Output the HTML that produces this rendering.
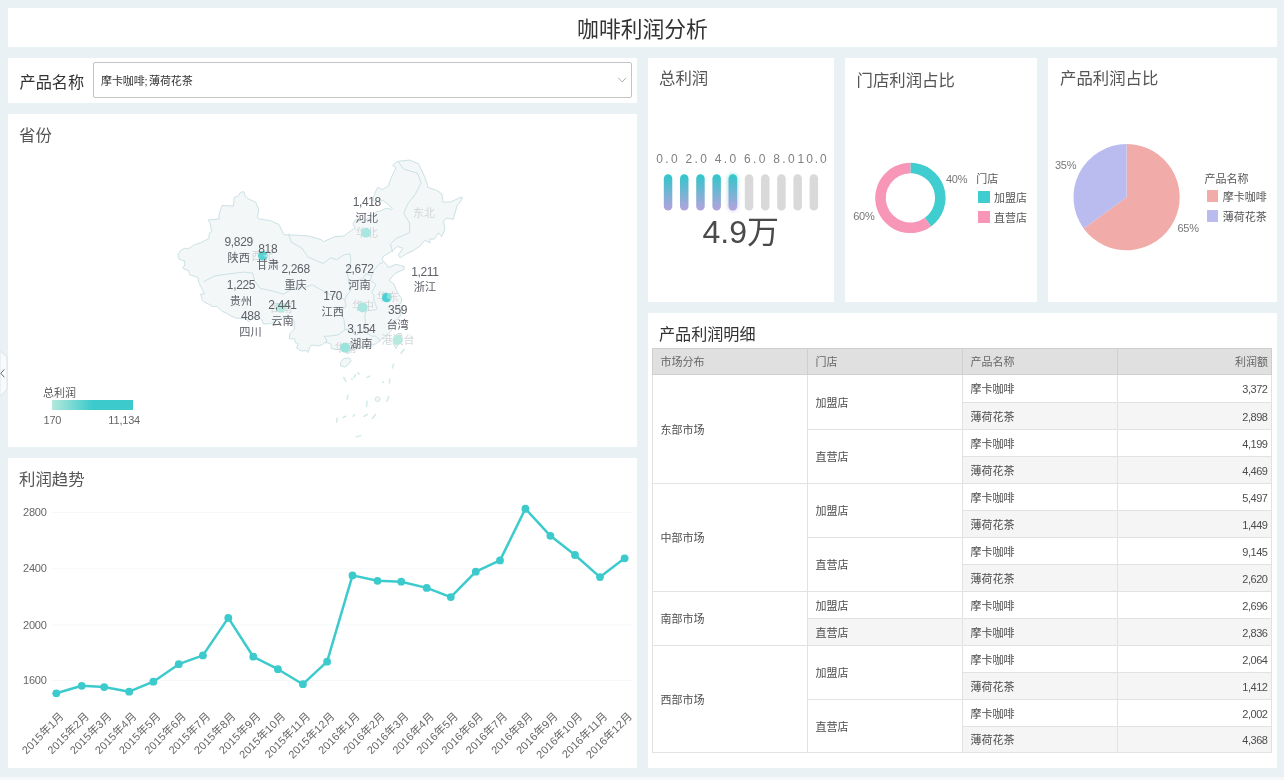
<!DOCTYPE html><html lang="zh-CN"><head><meta charset="utf-8"><title>咖啡利润分析</title><style>
html,body{margin:0;padding:0}
body{width:1284px;height:780px;overflow:hidden;background:#e9f1f5;font-family:"Liberation Sans","Noto Sans CJK SC",sans-serif;color:#555;position:relative}
.p{position:absolute;background:#fff}
.t{position:absolute;white-space:nowrap;line-height:1}
.h{font-size:16.4px;color:#555}
svg{position:absolute;left:0;top:0}
svg text{font-family:"Liberation Sans","Noto Sans CJK SC",sans-serif}
#tb{position:absolute;left:652px;top:348px;width:619px;border-collapse:collapse;table-layout:fixed;font-size:11px;color:#4d4d4d}
#tb td,#tb th{border:1px solid #e2e2e2;height:27px;padding:2px 0 0 7.5px;text-align:left;font-weight:normal;vertical-align:middle;background:#fff;line-height:1;box-sizing:border-box}
#tb th{background:#e0e0e0;color:#666;border-color:#cfcfcf;height:26px}
#tb tr.first td{height:28px}
#tb tr.last td{height:26px}
#tb .n{text-align:right;padding:2px 3.5px 0 0;letter-spacing:-0.45px}
#tb th.n{padding-right:3px;letter-spacing:0}
#tb tr.g td.z{background:#f5f5f5}

</style></head><body>
<div class="p" style="left:8px;top:8px;width:1269px;height:39px"></div>
<div class="p" style="left:8px;top:58px;width:629px;height:45px"></div>
<div class="p" style="left:8px;top:114px;width:629px;height:333px"></div>
<div class="p" style="left:8px;top:458px;width:629px;height:310px"></div>
<div class="p" style="left:648px;top:58px;width:186px;height:244px"></div>
<div class="p" style="left:845px;top:58px;width:192px;height:244px"></div>
<div class="p" style="left:1048px;top:58px;width:229px;height:244px"></div>
<div class="p" style="left:648px;top:313px;width:629px;height:455px"></div>
<div class="p" style="left:0;top:777px;width:1284px;height:3px;background:#f4f8fa"></div>
<div class="t " style="left:0.5px;top:18.5px;width:1284px;text-align:center;font-size:21.8px;color:#333">咖啡利润分析</div>
<div class="t " style="left:19.5px;top:73.5px;font-size:16.2px;color:#333">产品名称</div>
<div style="position:absolute;left:93px;top:62px;width:537px;height:34px;border:1px solid #c4c4c4;border-radius:2px;background:#fff"></div>
<div class="t " style="left:101px;top:75.5px;font-size:11px;color:#333;letter-spacing:-0.1px">摩卡咖啡;<span style="margin-left:-1.5px"> </span>薄荷花茶</div>
<div class="t h" style="left:19px;top:127px;">省份</div>
<div class="t h" style="left:19px;top:471.2px;">利润趋势</div>
<div class="t h" style="left:659px;top:70.4px;">总利润</div>
<div class="t h" style="left:856.5px;top:71.5px;">门店利润占比</div>
<div class="t h" style="left:1060px;top:70.3px;">产品利润占比</div>
<div class="t " style="left:659px;top:326px;font-size:16.1px;color:#333">产品利润明细</div><table id="tb"><colgroup><col style="width:155px"><col style="width:155px"><col style="width:155px"><col style="width:154px"></colgroup>
<tr><th>市场分布</th><th>门店</th><th>产品名称</th><th class="n">利润额</th></tr>
<tr class="first"><td rowspan="4">东部市场</td><td rowspan="2">加盟店</td><td class="z">摩卡咖啡</td><td class="n z">3,372</td></tr>
<tr class="g"><td class="z">薄荷花茶</td><td class="n z">2,898</td></tr>
<tr><td rowspan="2">直营店</td><td class="z">摩卡咖啡</td><td class="n z">4,199</td></tr>
<tr class="g"><td class="z">薄荷花茶</td><td class="n z">4,469</td></tr>
<tr><td rowspan="4">中部市场</td><td rowspan="2">加盟店</td><td class="z">摩卡咖啡</td><td class="n z">5,497</td></tr>
<tr class="g"><td class="z">薄荷花茶</td><td class="n z">1,449</td></tr>
<tr><td rowspan="2">直营店</td><td class="z">摩卡咖啡</td><td class="n z">9,145</td></tr>
<tr class="g"><td class="z">薄荷花茶</td><td class="n z">2,620</td></tr>
<tr><td rowspan="2">南部市场</td><td rowspan="1" class="z">加盟店</td><td class="z">摩卡咖啡</td><td class="n z">2,696</td></tr>
<tr class="g"><td rowspan="1" class="z">直营店</td><td class="z">摩卡咖啡</td><td class="n z">2,836</td></tr>
<tr><td rowspan="4">西部市场</td><td rowspan="2">加盟店</td><td class="z">摩卡咖啡</td><td class="n z">2,064</td></tr>
<tr class="g"><td class="z">薄荷花茶</td><td class="n z">1,412</td></tr>
<tr><td rowspan="2">直营店</td><td class="z">摩卡咖啡</td><td class="n z">2,002</td></tr>
<tr class="g last"><td class="z">薄荷花茶</td><td class="n z">4,368</td></tr>
</table><svg width="1284" height="780" viewBox="0 0 1284 780">
<defs><linearGradient id="gb" x1="0" y1="0" x2="0" y2="1"><stop offset="0" stop-color="#2ec7c9"/><stop offset="1" stop-color="#b6a2de"/></linearGradient><linearGradient id="lg" x1="0" y1="0" x2="1" y2="0"><stop offset="0" stop-color="#b4e8dc"/><stop offset="0.5" stop-color="#3ccacc"/><stop offset="1" stop-color="#3ccacc"/></linearGradient><filter id="glow" x="-100%" y="-30%" width="300%" height="160%"><feGaussianBlur stdDeviation="2"/></filter></defs>
<path d="M0 351 L7 357 L7 389 L0 396.5Z" fill="#f8fafc" stroke="#dde5ea" stroke-width="1"/>
<path d="M4.3 369.4 L0.8 373.3 L4.3 377.2" fill="none" stroke="#666" stroke-width="1"/>
<g fill="#f4f7f7" stroke="#cbe1e5" stroke-width="1" stroke-linejoin="round">
<path d="M178.0 254.9 L180.3 250.7 L184.5 248.3 L188.2 248.9 L193.7 245.2 L200.6 242.8 L208.9 238.5 L209.4 232.9 L211.7 231.6 L209.9 222.7 L208.0 220.1 L219.6 218.8 L218.6 216.1 L221.9 205.5 L233.4 206.2 L234.3 197.3 L238.5 195.9 L240.3 192.4 L244.0 191.7 L245.0 195.9 L249.1 199.3 L255.6 202.1 L258.8 209.5 L257.4 216.8 L258.4 218.8 L270.4 220.7 L279.1 224.6 L283.8 234.7 L300.4 235.4 L308.7 236.0 L321.2 239.7 L323.5 241.6 L335.0 236.6 L344.2 236.0 L351.2 230.3 L355.3 228.4 L353.0 223.9 L355.8 219.4 L363.2 221.4 L369.6 217.5 L377.0 211.5 L380.7 210.9 L385.8 208.2 L391.4 209.5 L392.3 208.2 L383.5 200.7 L378.9 201.4 L372.4 200.7 L373.8 195.9 L377.5 187.4 L382.6 189.6 L389.0 185.3 L389.5 181.7 L393.2 173.6 L396.0 167.6 L392.7 165.4 L397.4 161.5 L409.4 160.0 L418.6 163.8 L424.6 176.6 L427.4 184.6 L427.8 187.4 L436.6 190.3 L441.7 193.8 L443.1 202.1 L450.5 202.1 L460.6 197.3 L462.5 197.3 L460.2 202.1 L457.4 204.8 L453.2 219.4 L447.2 218.1 L443.5 220.7 L444.9 229.7 L441.7 236.6 L438.5 232.9 L434.3 239.1 L429.7 239.1 L430.1 242.8 L424.6 240.3 L420.4 245.8 L413.1 250.7 L406.6 253.7 L400.1 257.8 L398.3 254.9 L402.9 248.3 L397.4 246.4 L390.9 251.9 L383.5 256.0 L382.1 259.6 L387.7 266.0 L388.1 267.7 L396.0 264.3 L404.3 266.6 L403.8 269.5 L396.0 272.9 L394.1 274.6 L389.0 280.3 L394.1 284.2 L396.9 291.9 L401.5 298.4 L401.5 302.7 L396.9 305.9 L402.4 308.1 L400.1 316.5 L395.5 320.6 L390.9 331.4 L386.3 335.5 L380.3 340.0 L376.6 343.5 L366.0 347.0 L362.7 347.0 L354.9 349.0 L350.3 350.0 L348.9 353.4 L346.6 353.4 L345.6 349.5 L340.1 348.5 L337.3 349.5 L331.3 348.5 L330.9 344.0 L325.3 342.0 L322.5 344.5 L318.4 346.0 L311.9 345.0 L310.1 346.5 L307.8 352.5 L305.9 350.5 L301.3 351.0 L296.7 348.0 L298.1 344.0 L295.3 342.5 L294.4 338.5 L289.3 339.0 L289.8 333.5 L294.4 328.9 L293.9 320.6 L288.4 316.5 L282.8 318.0 L277.3 320.1 L270.4 323.7 L263.4 324.0 L261.6 319.1 L254.2 316.5 L249.6 321.2 L248.7 321.7 L245.4 318.6 L235.7 318.0 L231.1 316.0 L226.5 313.3 L221.9 311.2 L217.3 306.5 L212.6 306.5 L208.9 304.3 L203.4 301.7 L202.5 300.6 L200.6 294.1 L204.3 294.1 L202.5 289.7 L198.8 282.5 L197.9 277.4 L189.5 274.6 L188.6 270.6 L184.0 268.9 L182.6 267.2 L184.9 266.0 L184.5 260.8 L179.4 259.6Z"/>
<path d="M340.6 362.3 L343.3 358.8 L348.9 357.9 L351.2 360.3 L348.9 364.2 L344.7 367.1 L340.6 365.7Z"/>
<path d="M397.4 333.5 L401.5 333.5 L400.1 338.5 L396.9 347.0 L396.0 348.5 L393.2 343.5 L393.7 339.5Z"/>
</g>
<g fill="none" stroke="#cbe1e5" stroke-width="1" stroke-linejoin="round">
<path d="M288.5 233.7 L291.3 242.3 L301.9 248.1 L307.7 256.7 L316.3 260.6 L323.1 263.5 L330.8 257.7 L336.5 259.6 L344.2 254.8 L350 253.8 L351 261.5 L347.1 271.2 L349 283.5 L351 290 L347 295 L344.8 299.5"/>
<path d="M203.7 281.7 L214.2 276 L227.7 274 L243.1 272.1 L252.7 273.1 L254.6 280.8 L260.4 288.5 L273.8 291.3 L283.5 294.2 L293.1 288.5 L304.6 287.5 L312.3 284.6 L321.9 290.4 L333 296 L344.8 299.5"/>
<path d="M344.8 299.5 L346 306.4 L340.2 311.4 L343.9 319.4 L344.8 327.2 L344.8 330"/>
<path d="M344.8 330 L337.9 334.9 L330.9 335.9 L324 336.4 L327 340 L325.8 343.6"/>
<path d="M344.8 330 L351.8 328.2 L353 333 L356.4 334.9 L361 332 L365.7 332.3"/>
<path d="M365.7 332.3 L372.6 336.4 L375 335.9 L379.1 339.2 L380.5 342"/>
<path d="M365.7 332.3 L365.7 324.6 L364.8 316.7 L365.7 310.9 L374.9 309.9 L377.3 308.8 L374 300.7 L374 295.2 L371.7 292.4 L375.9 284.6 L374.9 283.5 L370.3 280.2 L371.7 275.6"/>
<path d="M371.7 275.6 L365.7 273.8 L363.4 278.4 L358.7 280.2 L354.1 281.3 L349 283.5"/>
<path d="M371.7 275.6 L374.9 268.7 L379.6 264 L383.3 262.2"/>
<path d="M398 161.5 L403.8 169.2 L417.3 173 L421.2 182.7 L415.4 194.2 L407.7 203.8 L403.8 213.5 L409.6 223 L409.6 232.7 L396.2 238.5 L390.4 244.2 L392.6 252"/>
</g>
<circle cx="377.6" cy="399.2" r="2.4" fill="#f4f7f7" stroke="#cfe6e6" stroke-width="1"/>
<g stroke="#d3e9e8" stroke-width="1.5" fill="none" stroke-linecap="round">
<path d="M401 353.5 L404.1 349.2"/>
<path d="M392.3 367.9 L393.6 364.2"/>
<path d="M389.4 383.1 L390 379"/>
<path d="M382.7 382.4 L383.3 381.8"/>
<path d="M386.9 401.2 L388.9 396.5"/>
<path d="M366.4 406.6 L367.1 401.2"/>
<path d="M372.5 418.5 L375.6 414.4"/>
<path d="M364.1 416.4 L367.4 414.4"/>
<path d="M353.2 416.4 L354.3 414.3"/>
<path d="M343.1 417.4 L345.8 416.2"/>
<path d="M336.6 422.1 L337.2 418.1"/>
<path d="M356.1 436.9 L360.8 435.6"/>
<path d="M347.3 399.2 L348 395.2"/>
<path d="M343.7 377.4 L345.8 381.5"/>
<path d="M351.7 379.3 L352.3 378.7"/>
<path d="M354.3 377.4 L355.3 374.7"/>
<path d="M357.7 373 L359.7 373.9"/>
<path d="M367.1 377.4 L369.8 376.1"/>
</g>
<g font-size="11" fill="#d2d6d6" text-anchor="middle">
<text x="262.5" y="260">西北</text>
<text x="366.7" y="237">华北</text>
<text x="424" y="217.2">东北</text>
<text x="387.7" y="301.4">华东</text>
<text x="363" y="309.6">华中</text>
<text x="281.5" y="311.5">西南</text>
<text x="345.5" y="351.5">华南</text>
<text x="397.9" y="343.5">港澳台</text>
</g>
<circle cx="262.8" cy="255.8" r="4.8" fill="#5ad2d4"/>
<circle cx="365.9" cy="232.8" r="5" fill="#a9e6df"/>
<circle cx="386.7" cy="297.6" r="4.7" fill="#4dd0d3"/>
<circle cx="362.6" cy="307.5" r="5" fill="#a9e6df"/>
<circle cx="280.8" cy="307.8" r="5" fill="#b4e9e0"/>
<circle cx="345.1" cy="347.7" r="5" fill="#9be3dd"/>
<circle cx="397.6" cy="340" r="5" fill="#b6eade"/>
<path d="M386.7 297.6 L387.52 292.97 A4.7 4.7 0 0 1 390.55 300.30 Z" fill="#8fe0dd"/>
<path d="M262.8 255.8 L267.31 254.16 A4.8 4.8 0 0 1 267.31 257.44 Z" fill="#a5e6e2"/>
<g font-size="12" fill="#5e6068" text-anchor="middle">
<text x="238.7" y="246.2" letter-spacing="-0.35">9,829</text><text x="238.7" y="261.6" font-size="11.2">陕西</text>
<text x="267.8" y="253.2" letter-spacing="-0.35">818</text><text x="267.8" y="268.6" font-size="11.2">甘肃</text>
<text x="295.6" y="273.2" letter-spacing="-0.35">2,268</text><text x="295.6" y="288.6" font-size="11.2">重庆</text>
<text x="241" y="289.2" letter-spacing="-0.35">1,225</text><text x="241" y="304.6" font-size="11.2">贵州</text>
<text x="282.5" y="309.2" letter-spacing="-0.35">2,441</text><text x="282.5" y="324.6" font-size="11.2">云南</text>
<text x="250.5" y="320.2" letter-spacing="-0.35">488</text><text x="250.5" y="335.6" font-size="11.2">四川</text>
<text x="366.8" y="206.2" letter-spacing="-0.35">1,418</text><text x="366.8" y="221.6" font-size="11.2">河北</text>
<text x="359.4" y="273.2" letter-spacing="-0.35">2,672</text><text x="359.4" y="288.6" font-size="11.2">河南</text>
<text x="424.9" y="275.7" letter-spacing="-0.35">1,211</text><text x="424.9" y="291.1" font-size="11.2">浙江</text>
<text x="332.7" y="300.2" letter-spacing="-0.35">170</text><text x="332.7" y="315.6" font-size="11.2">江西</text>
<text x="397.6" y="313.7" letter-spacing="-0.35">359</text><text x="397.6" y="329.1" font-size="11.2">台湾</text>
<text x="361.3" y="332.7" letter-spacing="-0.35">3,154</text><text x="361.3" y="348.1" font-size="11.2">湖南</text>
</g>
<text x="43" y="396.5" font-size="11" fill="#555">总利润</text>
<rect x="52" y="400" width="81" height="10" fill="url(#lg)"/>
<text x="43.5" y="423.5" font-size="11" fill="#666" letter-spacing="-0.2">170</text>
<text x="140" y="423.5" font-size="11" fill="#666" text-anchor="end" letter-spacing="-0.2">11,134</text>
<path d="M51 512.5 H632" stroke="#f5f7f8" stroke-width="1"/>
<text x="23" y="516" font-size="11" fill="#666" letter-spacing="-0.2">2800</text>
<path d="M51 568.8 H632" stroke="#f5f7f8" stroke-width="1"/>
<text x="23" y="572.3" font-size="11" fill="#666" letter-spacing="-0.2">2400</text>
<path d="M51 625 H632" stroke="#f5f7f8" stroke-width="1"/>
<text x="23" y="628.5" font-size="11" fill="#666" letter-spacing="-0.2">2000</text>
<path d="M51 680.5 H632" stroke="#f5f7f8" stroke-width="1"/>
<text x="23" y="684" font-size="11" fill="#666" letter-spacing="-0.2">1600</text>
<path d="M56.3 693.3 L81.7 685.8 L104.2 687.1 L129.2 691.7 L153.3 681.7 L178.75 664.2 L202.9 655.4 L228.3 617.9 L253.3 656.7 L277.9 669.2 L302.9 684.2 L327.1 661.7 L352.5 575.4 L377.5 580.8 L401.25 581.7 L426.7 587.9 L450.8 597.1 L475.8 571.7 L500 560.4 L525.4 508.75 L550.4 535.8 L575 555 L600 577.1 L624.6 558.3" fill="none" stroke="#3ccacc" stroke-width="2.5" stroke-linejoin="round"/>
<circle cx="56.3" cy="693.3" r="3.9" fill="#3ccacc"/>
<circle cx="81.7" cy="685.8" r="3.9" fill="#3ccacc"/>
<circle cx="104.2" cy="687.1" r="3.9" fill="#3ccacc"/>
<circle cx="129.2" cy="691.7" r="3.9" fill="#3ccacc"/>
<circle cx="153.3" cy="681.7" r="3.9" fill="#3ccacc"/>
<circle cx="178.75" cy="664.2" r="3.9" fill="#3ccacc"/>
<circle cx="202.9" cy="655.4" r="3.9" fill="#3ccacc"/>
<circle cx="228.3" cy="617.9" r="3.9" fill="#3ccacc"/>
<circle cx="253.3" cy="656.7" r="3.9" fill="#3ccacc"/>
<circle cx="277.9" cy="669.2" r="3.9" fill="#3ccacc"/>
<circle cx="302.9" cy="684.2" r="3.9" fill="#3ccacc"/>
<circle cx="327.1" cy="661.7" r="3.9" fill="#3ccacc"/>
<circle cx="352.5" cy="575.4" r="3.9" fill="#3ccacc"/>
<circle cx="377.5" cy="580.8" r="3.9" fill="#3ccacc"/>
<circle cx="401.25" cy="581.7" r="3.9" fill="#3ccacc"/>
<circle cx="426.7" cy="587.9" r="3.9" fill="#3ccacc"/>
<circle cx="450.8" cy="597.1" r="3.9" fill="#3ccacc"/>
<circle cx="475.8" cy="571.7" r="3.9" fill="#3ccacc"/>
<circle cx="500" cy="560.4" r="3.9" fill="#3ccacc"/>
<circle cx="525.4" cy="508.75" r="3.9" fill="#3ccacc"/>
<circle cx="550.4" cy="535.8" r="3.9" fill="#3ccacc"/>
<circle cx="575" cy="555" r="3.9" fill="#3ccacc"/>
<circle cx="600" cy="577.1" r="3.9" fill="#3ccacc"/>
<circle cx="624.6" cy="558.3" r="3.9" fill="#3ccacc"/>
<g font-size="11" fill="#666" text-anchor="end">
<text transform="translate(64.5 716.9) rotate(-45)" letter-spacing="0.15">2015年1月</text>
<text transform="translate(89.9 716.9) rotate(-45)" letter-spacing="0.15">2015年2月</text>
<text transform="translate(112.4 716.9) rotate(-45)" letter-spacing="0.15">2015年3月</text>
<text transform="translate(137.4 716.9) rotate(-45)" letter-spacing="0.15">2015年4月</text>
<text transform="translate(161.5 716.9) rotate(-45)" letter-spacing="0.15">2015年5月</text>
<text transform="translate(186.95 716.9) rotate(-45)" letter-spacing="0.15">2015年6月</text>
<text transform="translate(211.1 716.9) rotate(-45)" letter-spacing="0.15">2015年7月</text>
<text transform="translate(236.5 716.9) rotate(-45)" letter-spacing="0.15">2015年8月</text>
<text transform="translate(261.5 716.9) rotate(-45)" letter-spacing="0.15">2015年9月</text>
<text transform="translate(286.1 716.9) rotate(-45)" letter-spacing="0.15">2015年10月</text>
<text transform="translate(311.1 716.9) rotate(-45)" letter-spacing="0.15">2015年11月</text>
<text transform="translate(335.3 716.9) rotate(-45)" letter-spacing="0.15">2015年12月</text>
<text transform="translate(360.7 716.9) rotate(-45)" letter-spacing="0.15">2016年1月</text>
<text transform="translate(385.7 716.9) rotate(-45)" letter-spacing="0.15">2016年2月</text>
<text transform="translate(409.45 716.9) rotate(-45)" letter-spacing="0.15">2016年3月</text>
<text transform="translate(434.9 716.9) rotate(-45)" letter-spacing="0.15">2016年4月</text>
<text transform="translate(459 716.9) rotate(-45)" letter-spacing="0.15">2016年5月</text>
<text transform="translate(484 716.9) rotate(-45)" letter-spacing="0.15">2016年6月</text>
<text transform="translate(508.2 716.9) rotate(-45)" letter-spacing="0.15">2016年7月</text>
<text transform="translate(533.6 716.9) rotate(-45)" letter-spacing="0.15">2016年8月</text>
<text transform="translate(558.6 716.9) rotate(-45)" letter-spacing="0.15">2016年9月</text>
<text transform="translate(583.2 716.9) rotate(-45)" letter-spacing="0.15">2016年10月</text>
<text transform="translate(608.2 716.9) rotate(-45)" letter-spacing="0.15">2016年11月</text>
<text transform="translate(632.8 716.9) rotate(-45)" letter-spacing="0.15">2016年12月</text>
</g>
<rect x="663.8" y="174.2" width="8.5" height="36.3" rx="4.25" fill="url(#gb)"/>
<rect x="680" y="174.2" width="8.5" height="36.3" rx="4.25" fill="url(#gb)"/>
<rect x="696.2" y="174.2" width="8.5" height="36.3" rx="4.25" fill="url(#gb)"/>
<rect x="712.4" y="174.2" width="8.5" height="36.3" rx="4.25" fill="url(#gb)"/>
<rect x="728.6" y="174.2" width="8.5" height="36.3" rx="4.25" fill="url(#gb)" filter="url(#glow)" opacity="0.7"/>
<rect x="728.6" y="174.2" width="8.5" height="36.3" rx="4.25" fill="url(#gb)"/>
<rect x="744.8" y="174.2" width="8.5" height="36.3" rx="4.25" fill="#d9d9d9"/>
<rect x="761" y="174.2" width="8.5" height="36.3" rx="4.25" fill="#d9d9d9"/>
<rect x="777.2" y="174.2" width="8.5" height="36.3" rx="4.25" fill="#d9d9d9"/>
<rect x="793.4" y="174.2" width="8.5" height="36.3" rx="4.25" fill="#d9d9d9"/>
<rect x="809.6" y="174.2" width="8.5" height="36.3" rx="4.25" fill="#d9d9d9"/>
<g font-size="12" fill="#808080" letter-spacing="2.4">
<text x="656.2" y="162.7">0.0</text>
<text x="685.5" y="162.7">2.0</text>
<text x="714.8" y="162.7">4.0</text>
<text x="744" y="162.7">6.0</text>
<text x="773.2" y="162.7">8.0</text>
<text x="797.6" y="162.7" letter-spacing="1.9">10.0</text>
</g>
<text x="740.8" y="243.4" font-size="32" fill="#4a4a4a" text-anchor="middle">4.9万</text>
<path d="M910.40 162.70 A35.2 35.2 0 0 1 931.09 226.38 L924.86 217.80 A24.6 24.6 0 0 0 910.40 173.30 Z" fill="#3fcdd0"/>
<path d="M931.09 226.38 A35.2 35.2 0 1 1 910.40 162.70 L910.40 173.30 A24.6 24.6 0 1 0 924.86 217.80 Z" fill="#f896b8"/>
<g font-size="11" fill="#777" letter-spacing="-0.3"><text x="946" y="183">40%</text><text x="853.3" y="219.5">60%</text></g>
<text x="976.2" y="183.3" font-size="11" fill="#555">门店</text>
<rect x="978" y="191" width="12" height="12" fill="#3fcdd0"/><rect x="978" y="211" width="12" height="12" fill="#f896b8"/>
<text x="994" y="202" font-size="11" fill="#555">加盟店</text><text x="994" y="222" font-size="11" fill="#555">直营店</text>
<path d="M1126.6 197.2 L1126.60 144.10 A53.1 53.1 0 1 1 1083.64 228.41 Z" fill="#f1aba8"/>
<path d="M1126.6 197.2 L1083.64 228.41 A53.1 53.1 0 0 1 1126.60 144.10 Z" fill="#babcf0"/>
<g font-size="11" fill="#777" letter-spacing="-0.3"><text x="1055" y="168.5">35%</text><text x="1177.5" y="232">65%</text></g>
<text x="1204.5" y="183" font-size="11" fill="#555">产品名称</text>
<rect x="1207" y="190" width="11" height="12" fill="#f1aba8"/><rect x="1207" y="210" width="11" height="12" fill="#babcf0"/>
<text x="1222.7" y="201.2" font-size="11" fill="#555">摩卡咖啡</text><text x="1222.7" y="221" font-size="11" fill="#555">薄荷花茶</text>
<path d="M618.3 77.8 L622.2 82 L626 77.8" fill="none" stroke="#b0b0b0" stroke-width="1"/>
</svg></body></html>
